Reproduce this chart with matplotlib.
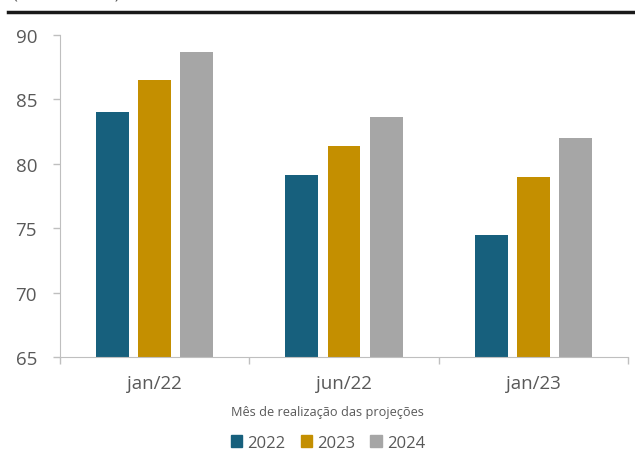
import numpy as np
import matplotlib.pyplot as plt
from matplotlib.lines import Line2D

# dados
meses = ['jan/22', 'jun/22', 'jan/23']
anos = ['2022', '2023', '2024']
v2022 = [84.0, 79.1, 74.5]
v2023 = [86.5, 81.4, 79.0]
v2024 = [88.7, 83.6, 82.0]
yticks = [65, 70, 75, 80, 85, 90]

cores = ['#17607d', '#c48f00', '#a6a6a6']
cinza = '#595959'

plt.rcParams['font.family'] = ['Open Sans', 'DejaVu Sans']

fig = plt.figure(figsize=(6.35, 4.56), dpi=100)
ax = fig.add_axes([60 / 635, 1 - 358 / 456, 568 / 635, 322 / 456])

x = np.arange(len(meses))
w = 0.174
step = 0.222
for i, (serie, cor) in enumerate(zip([v2022, v2023, v2024], cores)):
    ax.bar(x + (i - 1) * step, serie, width=w, color=cor, label=anos[i], zorder=2)

ax.set_xlim(-0.5, 2.5)
ax.set_ylim(65, 90)
ax.set_yticks(yticks)
ax.set_yticklabels([str(t) for t in yticks], fontsize=13.5, color=cinza)
ax.set_xticks(x)
ax.set_xticklabels(meses, fontsize=13.5, color=cinza)
ax.tick_params(axis='x', length=0, pad=12)
ax.set_xticks([-0.5, 0.5, 1.5, 2.5], minor=True)
ax.tick_params(axis='x', which='minor', length=5, color='#bfbfbf', width=1)
ax.tick_params(axis='y', length=5, color='#bfbfbf', width=1, pad=11.5)

for s in ['top', 'right']:
    ax.spines[s].set_visible(False)
for s in ['left', 'bottom']:
    ax.spines[s].set_color('#bfbfbf')

fig.text(327 / 635, 1 - 413 / 456, 'Mês de realização das projeções',
         fontsize=9.2, color=cinza, ha='center', va='center')

handles = [plt.Rectangle((0, 0), 1, 1, color=c) for c in cores]
fig.legend(handles, anos, loc='center', bbox_to_anchor=(328 / 635, 1 - 444 / 456),
           ncol=3, frameon=False, fontsize=12, handlelength=0.7, handleheight=0.7,
           handletextpad=0.3, columnspacing=0.9, labelcolor=cinza)

# título cortado e linha superior
fig.text(13 / 635, 1 + 2 / 456, '(em % do PIB)', fontsize=12, color=cinza,
         ha='left', va='baseline')
fig.add_artist(Line2D([8 / 635, 1], [1 - 13 / 456, 1 - 13 / 456],
                      color='#1a1a1a', lw=2.5, transform=fig.transFigure))

fig.savefig('out.png', dpi=100)
